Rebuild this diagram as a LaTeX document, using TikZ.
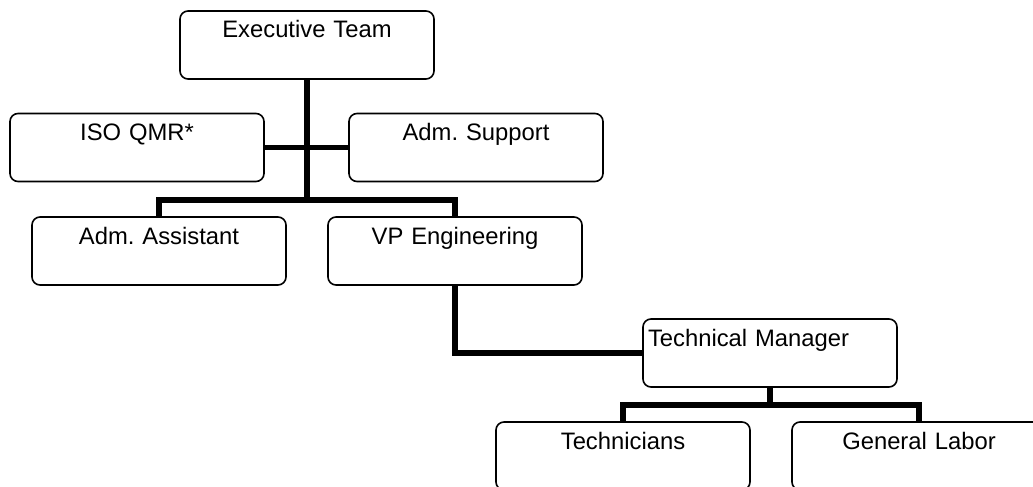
\documentclass[tikz,border=0pt]{standalone}
\usepackage{fontspec}
\setmainfont{Liberation Sans}
\frenchspacing
\usetikzlibrary{positioning}

\begin{document}
\begin{tikzpicture}[
  x=0.5pt, y=-0.5pt,
  mybox/.style={
    draw,
    line width=0.8pt,
    rounded corners=4pt,
    minimum width=127pt,
    inner xsep=2.5pt,
    inner ysep=0pt,
    text width=122pt,
    text height=13.5pt,
    text depth=20.5pt,
    align=center,
    font=\fontsize{11.9}{14}\selectfont
    },
  mylink/.style={line width=2.8pt}
]
\useasboundingbox (0,0) rectangle (1033,487);

\node[mybox] (exec)    at (307,45)    {Executive Team};
\node[mybox] (iso)     at (137,147.5) {ISO QMR*};
\node[mybox] (admsup)  at (476,147.5) {Adm. Support};
\node[mybox] (admasst) at (159,251)   {Adm. Assistant};
\node[mybox] (vp)      at (455,251)   {VP Engineering};
\node[mybox, align=left] (tm) at (770,353) {Technical Manager};
\node[mybox] (tech)    at (623,456)   {Technicians};
\node[mybox] (labor)   at (919,456)   {General Labor};

\coordinate (hub)   at (307,200);
\coordinate (tmhub) at (770,405);

\draw[mylink] (exec.south) -- (hub);
\draw[mylink] (iso.east) -- (admsup.west);
\draw[mylink] (admasst.north) |- (hub) -| (vp.north);
\draw[mylink] (vp.south) |- (tm.west);
\draw[mylink] (tm.south) -- (tmhub);
\draw[mylink] (tech.north) |- (tmhub) -| (labor.north);
\end{tikzpicture}
\end{document}
